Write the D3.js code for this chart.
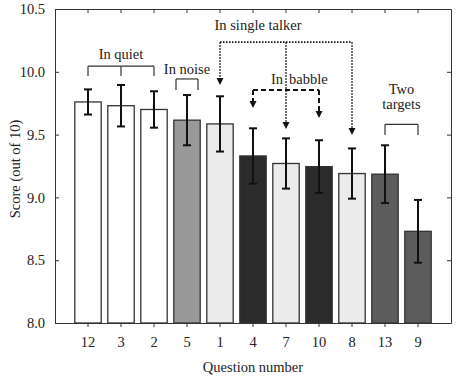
<!DOCTYPE html>
<html>
<head>
<meta charset="utf-8">
<script src="https://cdn.jsdelivr.net/npm/d3@7"></script>
<style>
  body { margin: 0; background: #fff; }
  text { font-family: "Liberation Serif", "DejaVu Serif", serif; fill: #222; }
</style>
</head>
<body>
<div id="chart"></div>
<script>
// data
const questions = ["12", "3", "2", "5", "1", "4", "7", "10", "8", "13", "9"];
const scores    = [9.76, 9.73, 9.70, 9.615, 9.585, 9.33, 9.27, 9.245, 9.19, 9.185, 8.73];
const errors    = [0.10, 0.165, 0.145, 0.20, 0.22, 0.22, 0.20, 0.21, 0.20, 0.23, 0.25];
const groups    = ["quiet", "quiet", "quiet", "noise", "talker", "babble", "talker", "babble", "talker", "two", "two"];
const yTicks    = [8.0, 8.5, 9.0, 9.5, 10.0, 10.5];

const fillFor = {quiet: "#ffffff", noise: "#999999", talker: "#ebebeb", babble: "#2b2b2b", two: "#5c5c5c"};

const W = 458, H = 379;
const margin = {top: 9, right: 7, bottom: 56, left: 55};
const width = W - margin.left - margin.right,
      height = H - margin.top - margin.bottom;
const fs = "14.5px";

const svg = d3.select("#chart").append("svg")
    .attr("width", W)
    .attr("height", H);

const g = svg.append("g")
    .attr("transform", `translate(${margin.left},${margin.top})`);

const x = d3.scaleBand()
    .domain(questions)
    .range([0, width])
    .paddingInner(0.2)
    .paddingOuter(0.6);

const y = d3.scaleLinear()
    .domain([8, 10.5])
    .range([height, 0]);

const cx = q => x(q) + x.bandwidth() / 2;

// bars
g.selectAll(".bar")
    .data(questions)
    .join("rect")
    .attr("class", "bar")
    .attr("x", d => x(d))
    .attr("y", (d, i) => y(scores[i]))
    .attr("width", x.bandwidth())
    .attr("height", (d, i) => y(8) - y(scores[i]))
    .style("fill", (d, i) => fillFor[groups[i]])
    .style("stroke", "#333")
    .style("stroke-width", 1.3);

// error bars
const err = g.selectAll(".err")
    .data(questions)
    .join("g")
    .attr("class", "err")
    .style("stroke", "#111")
    .style("stroke-width", 2);
err.append("line")
    .attr("x1", d => cx(d)).attr("x2", d => cx(d))
    .attr("y1", (d, i) => y(scores[i] + errors[i]))
    .attr("y2", (d, i) => y(scores[i] - errors[i]));
err.append("line")
    .attr("x1", d => cx(d) - 4).attr("x2", d => cx(d) + 4)
    .attr("y1", (d, i) => y(scores[i] + errors[i]))
    .attr("y2", (d, i) => y(scores[i] + errors[i]));
err.append("line")
    .attr("x1", d => cx(d) - 4).attr("x2", d => cx(d) + 4)
    .attr("y1", (d, i) => y(scores[i] - errors[i]))
    .attr("y2", (d, i) => y(scores[i] - errors[i]));

// axes (box with mirrored ticks)
const styleAxis = sel => {
    sel.selectAll("path, line").style("stroke", "#333").style("stroke-width", 1);
    sel.selectAll("text").style("font-size", fs).style("fill", "#222")
        .style("font-family", '"Liberation Serif", serif');
};

g.append("g")
    .attr("transform", `translate(0,${height})`)
    .call(d3.axisBottom(x).tickSize(4).tickSizeOuter(0).tickPadding(10))
    .call(styleAxis);

g.append("g")
    .call(d3.axisTop(x).tickSize(-4).tickSizeOuter(0).tickFormat(""))
    .call(styleAxis);

g.append("g")
    .call(d3.axisLeft(y).tickValues(yTicks).tickFormat(d3.format(".1f"))
        .tickSize(-4).tickSizeOuter(0).tickPadding(10))
    .call(styleAxis);

g.append("g")
    .attr("transform", `translate(${width},0)`)
    .call(d3.axisRight(y).tickValues(yTicks).tickSize(-4).tickSizeOuter(0).tickFormat(""))
    .call(styleAxis);

// axis titles
svg.append("text")
    .attr("x", margin.left + width / 2)
    .attr("y", 372)
    .attr("text-anchor", "middle")
    .style("font-size", fs)
    .text("Question number");

svg.append("text")
    .attr("transform", `translate(20,${margin.top + height / 2 + 3}) rotate(-90)`)
    .attr("text-anchor", "middle")
    .style("font-size", fs)
    .text("Score (out of 10)");

// annotations
const ann = g.append("g").style("fill", "none");

function bracket(x1, x2, yTop, yBot, mids) {
    const pts = [x1, x2].concat(mids || []);
    ann.append("line")
        .attr("x1", x1).attr("x2", x2)
        .attr("y1", y(yTop)).attr("y2", y(yTop))
        .style("stroke", "#333").style("stroke-width", 1.2);
    pts.forEach(px => ann.append("line")
        .attr("x1", px).attr("x2", px)
        .attr("y1", y(yTop)).attr("y2", y(yBot))
        .style("stroke", "#333").style("stroke-width", 1.2));
}

function label(px, val, txt, anchor) {
    g.append("text")
        .attr("x", px).attr("y", y(val))
        .attr("text-anchor", anchor || "middle")
        .style("font-size", fs)
        .text(txt);
}

function arrow(px, yFrom, yTip, dash, sw) {
    ann.append("line")
        .attr("x1", px).attr("x2", px)
        .attr("y1", y(yFrom)).attr("y2", y(yTip) - 5)
        .style("stroke", "#111").style("stroke-width", sw)
        .style("stroke-dasharray", dash);
    ann.append("path")
        .attr("d", `M${px - 3.5},${y(yTip) - 7} L${px + 3.5},${y(yTip) - 7} L${px},${y(yTip)} Z`)
        .style("fill", "#111");
}

// In quiet
bracket(cx("12"), cx("2"), 10.045, 9.967, [cx("3")]);
label(cx("3"), 10.10, "In quiet");

// In noise
bracket(cx("5") - 11, cx("5") + 11, 9.943, 9.856);
label(cx("5"), 9.98, "In noise");

// In single talker (dotted)
label(cx("1") + 38, 10.33, "In single talker");
ann.append("line")
    .attr("x1", cx("1")).attr("x2", cx("8"))
    .attr("y1", y(10.236)).attr("y2", y(10.236))
    .style("stroke", "#111").style("stroke-width", 1.6)
    .style("stroke-dasharray", "1.5,1.5");
arrow(cx("1"), 10.236, 9.895, "1.5,1.5", 1.6);
arrow(cx("7"), 10.236, 9.545, "1.5,1.5", 1.6);
arrow(cx("8"), 10.236, 9.497, "1.5,1.5", 1.6);

// In babble (dashed); the dotted arrow runs through the word gap
label(cx("7") - 3, 9.905, "In", "end");
label(cx("7") + 3, 9.905, "babble", "start");
ann.append("line")
    .attr("x1", cx("4")).attr("x2", cx("10"))
    .attr("y1", y(9.856)).attr("y2", y(9.856))
    .style("stroke", "#111").style("stroke-width", 2)
    .style("stroke-dasharray", "5,3");
arrow(cx("4"), 9.856, 9.712, "5,3", 2);
arrow(cx("10"), 9.856, 9.632, "5,3", 2);

// Two targets
label((cx("13") + cx("9")) / 2, 9.824, "Two");
label((cx("13") + cx("9")) / 2, 9.70, "targets");
bracket(cx("13"), cx("9"), 9.582, 9.497);
</script>
</body>
</html>
